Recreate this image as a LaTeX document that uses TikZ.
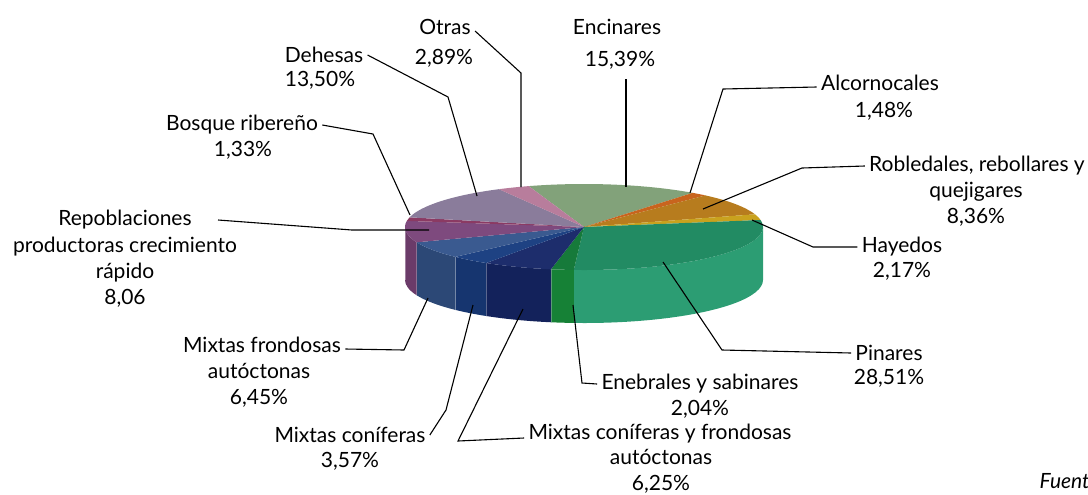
\documentclass[tikz,border=0pt]{standalone}
\usepackage{fontspec}
\setmainfont{Lato}

\definecolor{encTop}{HTML}{82A27A}
\definecolor{alcTop}{HTML}{C8641E}
\definecolor{robTop}{HTML}{B77C1E}
\definecolor{hayTop}{HTML}{C9A21E}
\definecolor{pinTop}{HTML}{228B63}
\definecolor{pinSide}{HTML}{2C9D73}
\definecolor{eneTop}{HTML}{167A3A}
\definecolor{eneSide}{HTML}{168136}
\definecolor{mcfTop}{HTML}{1D2D6C}
\definecolor{mcfSide}{HTML}{13225B}
\definecolor{mcTop}{HTML}{1E4283}
\definecolor{mcSide}{HTML}{16356F}
\definecolor{mfTop}{HTML}{3A5A90}
\definecolor{mfSide}{HTML}{2C4876}
\definecolor{repTop}{HTML}{7E4A7E}
\definecolor{repSide}{HTML}{6B3B69}
\definecolor{bosTop}{HTML}{8B3A63}
\definecolor{dehTop}{HTML}{8A7C9B}
\definecolor{otrTop}{HTML}{B87D9C}

\tikzset{
    lbl/.style={inner sep=2pt, font=\fontsize{10.5}{12.85}\selectfont, align=center},
    leader/.style={draw=black, line width=0.55pt}
}

\begin{document}
\begin{tikzpicture}[x=0.5pt, y=-0.5pt]
    \useasboundingbox (0,0) rectangle (1088,494);

    % Pie, front wall first
    \begin{scope}[shift={(584,227)}, y=0.5pt]
        \foreach \a/\b/\c in {0/-93.28/pinSide, -93.28/-100.62/eneSide, -100.62/-123.12/mcfSide,
                              -123.12/-135.97/mcSide, -135.97/-159.19/mfSide, -159.19/-180/repSide} {
            \fill[\c] (\a:179 and 43) arc[start angle=\a, end angle=\b, x radius=179, y radius=43]
                -- ++(0,-53) arc[start angle=\b, end angle=\a, x radius=179, y radius=43] -- cycle;
            \draw[white, opacity=0.35, line width=0.3pt] (\b:179 and 43) -- ++(0,-53);
        }
        % Top of the pie
        \foreach \a/\b/\c in {108/52.60/encTop, 52.60/47.27/alcTop, 47.27/17.17/robTop, 17.17/9.36/hayTop,
                              9.36/-93.28/pinTop, -93.28/-100.62/eneTop, -100.62/-123.12/mcfTop,
                              -123.12/-135.97/mcTop, -135.97/-159.19/mfTop, -159.19/-188.21/repTop,
                              -188.21/-193.00/bosTop, -193.00/-241.60/dehTop, -241.60/-252/otrTop} {
            \fill[\c] (0,0) -- (\a:179 and 43) arc[start angle=\a, end angle=\b, x radius=179, y radius=43] -- cycle;
        }
    \end{scope}

    % Labels
    \node[lbl] (otras) at (445,27) {Otras};
    \node[lbl] (otrasv) at (444,58) {2,89\%};
    \node[lbl] (enc) at (617,27) {Encinares};
    \node[lbl] (encv) at (620,60) {15,39\%};
    \node[lbl] (alc) at (880,83) {Alcornocales};
    \node[lbl] (alcv) at (884,111) {1,48\%};
    \node[lbl] (rob) at (977,166) {Robledales, rebollares y};
    \node[lbl] (robv) at (976,204.5) {quejigares\\8,36\%};
    \node[lbl] (hay) at (902,247) {Hayedos};
    \node[lbl] (hayv) at (902,271) {2,17\%};
    \node[lbl] (pin) at (889,353) {Pinares};
    \node[lbl] (pinv) at (889,378) {28,51\%};
    \node[lbl] (ene) at (700,384) {Enebrales y sabinares};
    \node[lbl] (enev) at (700,409) {2,04\%};
    \node[lbl] (mcf) at (660,434) {Mixtas coníferas y frondosas};
    \node[lbl] (mcfv) at (661,471) {autóctonas\\6,25\%};
    \node[lbl] (mc) at (350,435) {Mixtas coníferas};
    \node[lbl] (mcv) at (350,461) {3,57\%};
    \node[lbl] (mf) at (262,345) {Mixtas frondosas};
    \node[lbl] (mfv) at (259,385) {autóctonas\\6,45\%};
    \node[lbl] (rep) at (125,220) {Repoblaciones};
    \node[lbl] (repv) at (125,272) {productoras crecimiento\\rápido\\8,06};
    \node[lbl] (bos) at (242,125) {Bosque ribereño};
    \node[lbl] (bosv) at (243,150) {1,33\%};
    \node[lbl] (deh) at (324,55) {Dehesas};
    \node[lbl] (dehv) at (320,80) {13,50\%};
    \node[lbl, anchor=east, inner sep=0pt, font=\fontsize{10.5}{12}\selectfont\itshape] (fuente) at (1090,481) {Fuent};

    % Leader bends and ends
    \coordinate (otras-k) at (521,73);  \coordinate (otras-p) at (521,187);
    \coordinate (enc-p) at (626,187);
    \coordinate (alc-k) at (723,89);    \coordinate (alc-p) at (690,193);
    \coordinate (rob-k) at (802,168);   \coordinate (rob-p) at (703,209);
    \coordinate (hay-k) at (813,247);   \coordinate (hay-p) at (752,220);
    \coordinate (pin-k) at (722,350);   \coordinate (pin-p) at (663,262);
    \coordinate (ene-k) at (582,383);   \coordinate (ene-p) at (573,305);
    \coordinate (mcf-k) at (458,441);   \coordinate (mcf-p) at (523,309);
    \coordinate (mc-k) at (446,410);    \coordinate (mc-p) at (473,305);
    \coordinate (mf-k) at (404,350);    \coordinate (mf-p) at (428,298);
    \coordinate (rep-k) at (352,230);   \coordinate (rep-p) at (429,230);
    \coordinate (bos-k) at (373,134);   \coordinate (bos-p) at (410,215);
    \coordinate (deh-k) at (448,97);    \coordinate (deh-p) at (477,196);

    % Leaders
    \draw[leader] ([yshift=-2pt]otras.east) -- (otras-k) -- (otras-p);
    \draw[leader] ([yshift=-3pt]encv.south -| enc-p) -- (enc-p);
    \draw[leader] ([yshift=-2pt]alc.west) -- (alc-k) -- (alc-p);
    \draw[leader] (rob.west) -- (rob-k) -- (rob-p);
    \draw[leader] (hay.west) -- (hay-k) -- (hay-p);
    \draw[leader] (pin.west) -- (pin-k) -- (pin-p);
    \draw[leader] (ene.west) -- (ene-k) -- (ene-p);
    \draw[leader] ([yshift=-2pt]mcf.west) -- (mcf-k) -- (mcf-p);
    \draw[leader] (mc.east) -- (mc-k) -- (mc-p);
    \draw[leader] ([yshift=-2pt]mf.east) -- (mf-k) -- (mf-p);
    \draw[leader] ([xshift=11pt]rep.east) -- (rep-k) -- (rep-p);
    \draw[leader] (bos.east) -- (bos-k) -- (bos-p);
    \draw[leader] (deh.east) -- (deh-k) -- (deh-p);

\end{tikzpicture}
\end{document}
